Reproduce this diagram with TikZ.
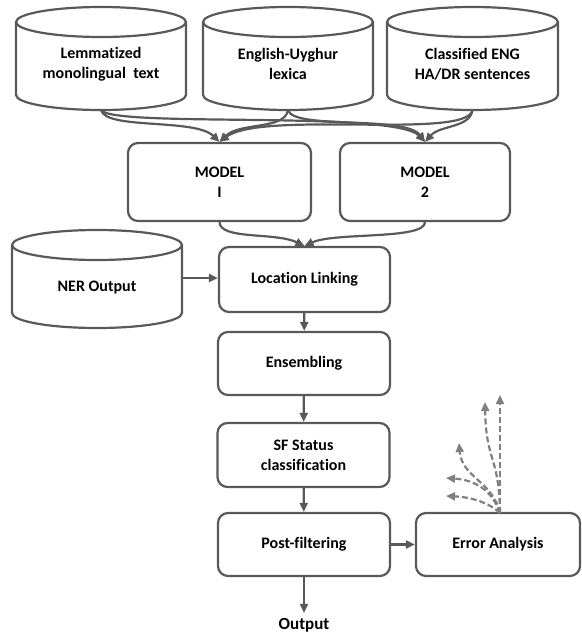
\documentclass[tikz,border=0pt]{standalone}
\usepackage{fontspec}
\setmainfont{Carlito}[Ligatures={NoCommon}]
\usetikzlibrary{arrows.meta}
\definecolor{lc}{HTML}{595959}
\definecolor{dc}{HTML}{808080}
\newcommand\cylshape[4]{%
  \pgfmathsetmacro\rx{(#2-#1)/2}%
  \draw[cylline] (#1,#3+15) -- (#1,#4-15) arc[start angle=180,end angle=0,x radius=\rx,y radius=15] -- (#2,#3+15) arc[start angle=0,end angle=-180,x radius=\rx,y radius=15] -- cycle;
  \draw[cylline] (#1,#3+15) arc[start angle=180,end angle=0,x radius=\rx,y radius=15];
}
\tikzset{
  txt/.style={font=\fontsize{16}{20}\selectfont\bfseries, align=center, inner sep=0pt},
  box/.style={txt, draw=lc, line width=2.2pt, rounded corners=10pt, fill=white},
  cylline/.style={draw=lc, line width=2.2pt, fill=white},
  arr/.style={draw=lc, line width=2.2pt, -{Triangle[length=9pt,width=8pt]}},
  darr/.style={draw=dc, line width=2.2pt, dash pattern=on 6pt off 3pt, -{Triangle[length=9pt,width=8pt]}}
}
\begin{document}
\begin{tikzpicture}[x=1pt,y=-1pt]
\useasboundingbox (0,0) rectangle (581,637);
% cylinders
\cylshape{16}{186}{7}{110}
\cylshape{203}{373}{7}{110}
\cylshape{387}{558}{7}{110}
\cylshape{12}{182}{230}{328}
\node[txt] (c1) at (101,64) {Lemmatized\\monolingual\ \ text};
\node[txt] (c2) at (288,64) {English-Uyghur\\lexica};
\node[txt] (c3) at (472.5,64) {Classified ENG\\HA/DR sentences};
\node[txt] (ner) at (97,288) {NER Output};
\coordinate (c1b) at (101,110);
\coordinate (c2b) at (288,110);
\coordinate (c3b) at (472.5,110);
\coordinate (nerr) at (182,278);
% boxes
\node[box, minimum width=183pt, minimum height=78pt] (m1) at (219.5,182) {MODEL\\I};
\node[box, minimum width=170pt, minimum height=78pt] (m2) at (425,182) {MODEL\\2};
\node[box, minimum width=171pt, minimum height=65pt] (ll) at (304.5,279.5) {Location Linking};
\node[box, minimum width=172pt, minimum height=63pt] (en) at (304,363.5) {Ensembling};
\node[box, minimum width=172pt, minimum height=64pt] (sf) at (303.5,455) {SF Status\\classification};
\node[box, minimum width=172pt, minimum height=63pt] (pf) at (304,544.5) {Post-filtering};
\node[box, minimum width=164pt, minimum height=63pt] (ea) at (498,544.5) {Error Analysis};
\node[txt, font=\fontsize{17}{20}\selectfont\bfseries] (out) at (304,625) {Output};
% cylinder -> models
\draw[arr] (c1b) .. controls (106,130) and (195,118) .. (m1.north);
\draw[arr] (c1b) .. controls (112,128) and (395,110) .. (m2.north);
\draw[arr] (c2b) .. controls (285,130) and (240,122) .. (m1.north);
\draw[arr] (c2b) .. controls (293,130) and (405,115) .. (m2.north);
\draw[arr] (c3b) .. controls (468,140) and (262,110) .. (m1.north);
\draw[arr] (c3b) .. controls (470,128) and (440,125) .. (m2.north);
% models -> location linking
\draw[arr] (m1.south) .. controls (220,240) and (275,232) .. (ll.north);
\draw[arr] (m2.south) .. controls (425,240) and (335,232) .. (ll.north);
\draw[arr] (nerr) -- (nerr -| ll.west);
\draw[arr] (ll) -- (en);
\draw[arr] (en) -- (sf);
\draw[arr] (sf) -- (pf);
\draw[arr] (pf) -- (ea);
\draw[arr, shorten >=5pt] (pf) -- (out);
% dashed arrows
\coordinate (eo) at (500,513);
\coordinate (d1) at (500,395);
\coordinate (d2) at (485,402);
\coordinate (d3) at (459,443);
\coordinate (d4) at (446,478);
\coordinate (d5) at (446,496);
\draw[darr] (eo) -- (d1);
\draw[darr] (eo) .. controls (499,455) and (486,462) .. (d2);
\draw[darr] (eo) .. controls (492,480) and (462,478) .. (d3);
\draw[darr] (eo) .. controls (492,490) and (475,480) .. (d4);
\draw[darr] (eo) .. controls (488,502) and (470,497) .. (d5);
\end{tikzpicture}
\end{document}
